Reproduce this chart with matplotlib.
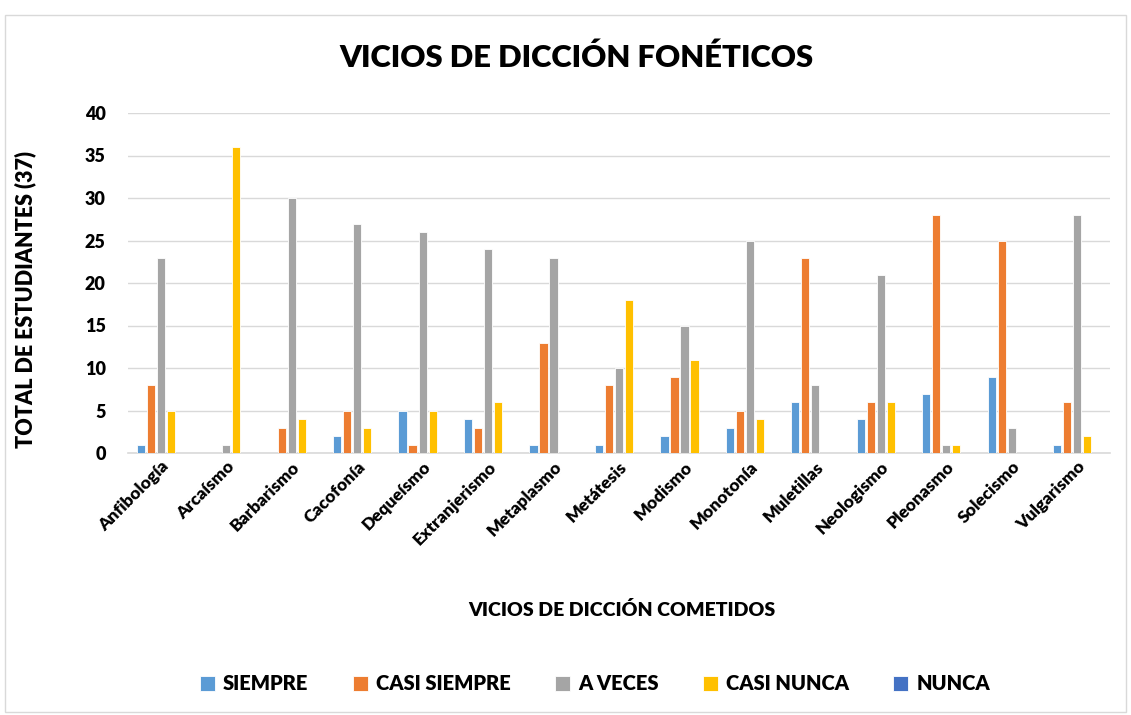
import numpy as np
import matplotlib.pyplot as plt

plt.rcParams['font.family'] = ['Lato', 'DejaVu Sans']
plt.rcParams['font.weight'] = 'heavy'

categorias = ['Anfibología', 'Arcaísmo', 'Barbarismo', 'Cacofonía', 'Dequeísmo',
              'Extranjerismo', 'Metaplasmo', 'Metátesis', 'Modismo', 'Monotonía',
              'Muletillas', 'Neologismo', 'Pleonasmo', 'Solecismo', 'Vulgarismo']
siempre = [1, 0, 0, 2, 5, 4, 1, 1, 2, 3, 6, 4, 7, 9, 1]
casi_siempre = [8, 0, 3, 5, 1, 3, 13, 8, 9, 5, 23, 6, 28, 25, 6]
a_veces = [23, 1, 30, 27, 26, 24, 23, 10, 15, 25, 8, 21, 1, 3, 28]
casi_nunca = [5, 36, 4, 3, 5, 6, 0, 18, 11, 4, 0, 6, 1, 0, 2]
nunca = [0] * 15

series = [('SIEMPRE', siempre, '#5B9BD5'),
          ('CASI SIEMPRE', casi_siempre, '#ED7D31'),
          ('A VECES', a_veces, '#A5A5A5'),
          ('CASI NUNCA', casi_nunca, '#FFC000'),
          ('NUNCA', nunca, '#4472C4')]

fig = plt.figure(figsize=(11.31, 7.15), dpi=100)
ax = fig.add_axes([128 / 1131, 1 - 453 / 715, (1110 - 128) / 1131, (453 - 113) / 715])

x = np.arange(len(categorias))
paso = 0.153
ancho = 0.125
for i, (nombre, vals, color) in enumerate(series):
    ax.bar(x + (i - 2) * paso, vals, ancho, color=color, label=nombre,
           edgecolor='white', linewidth=0.6, zorder=3)

ax.set_xlim(-0.5, len(categorias) - 0.5)
ax.set_ylim(0, 40)
ax.set_yticks(range(0, 41, 5))
ax.tick_params(axis='y', length=0, labelsize=13, pad=16)
ax.tick_params(axis='x', length=0, labelsize=12.5, pad=4)
ax.set_xticks(x)
ax.set_xticklabels(categorias, rotation=45, ha='right', rotation_mode='anchor')
ax.grid(axis='y', color='#D9D9D9', linewidth=1, zorder=0)
for s in ['top', 'right', 'left']:
    ax.spines[s].set_visible(False)
ax.spines['bottom'].set_color('#D9D9D9')
ax.spines['bottom'].set_linewidth(1.2)

ax.set_ylabel('TOTAL DE ESTUDIANTES (37)', fontsize=15.5, fontweight='heavy', labelpad=14)
ax.yaxis.set_label_coords(-0.093, 0.45)
fig.text(622 / 1131, 1 - 610 / 715, 'VICIOS DE DICCIÓN COMETIDOS',
         ha='center', va='center', fontsize=14)
fig.text(576 / 1131, 1 - 58 / 715, 'VICIOS DE DICCIÓN FONÉTICOS',
         ha='center', va='center', fontsize=22.3)

fig.legend(loc='center', bbox_to_anchor=(595 / 1131, 1 - 684 / 715), ncol=5,
           frameon=False, prop={'weight': 'heavy', 'size': 14.5},
           handlelength=0.75, handleheight=0.75, columnspacing=2.2, handletextpad=0.4)

fig.patches.append(plt.Rectangle((0.004, 0.004), 0.992, 0.975, transform=fig.transFigure,
                                 fill=False, edgecolor='#D9D9D9', linewidth=1))

fig.savefig('out.png', dpi=100)
